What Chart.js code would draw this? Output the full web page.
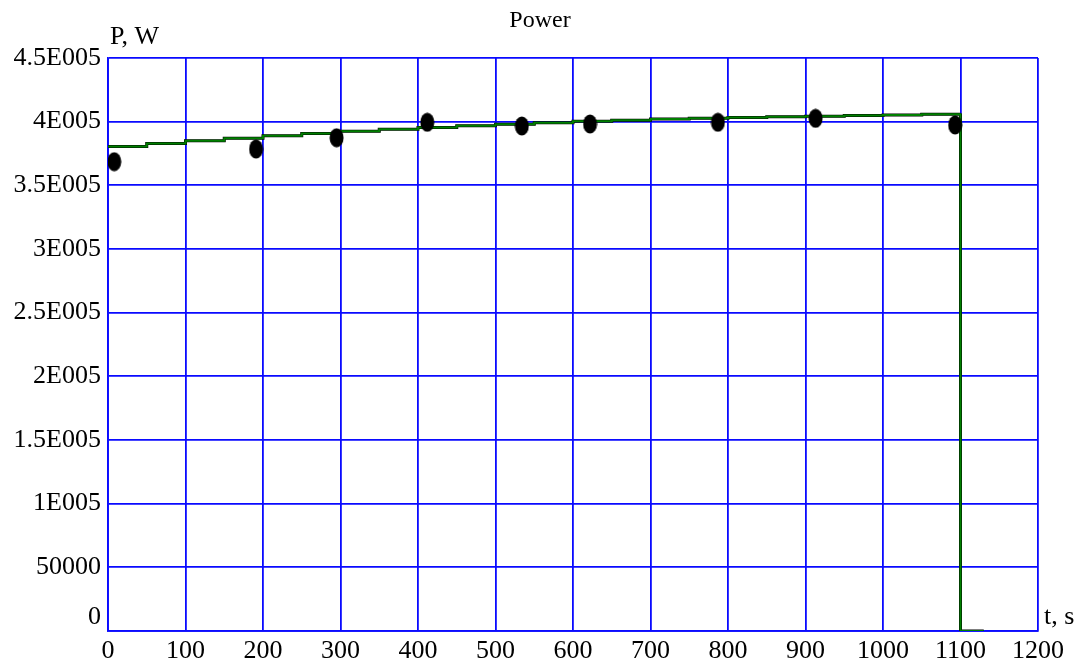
<!DOCTYPE html>
<html lang="en">
<head>
    <meta charset="UTF-8">
    <title>Power</title>
    <script src="https://cdn.jsdelivr.net/npm/chart.js"></script>
    <style>
        body {
            margin: 0;
            background: #fff;
        }
        canvas {
            display: block;
        }
    </style>
</head>
<body>
    <canvas id="powerChart" width="1081" height="669"></canvas>

    <script>
        // model curve (stepped), t in s, P in W
        const lineT = [0, 50, 100, 150, 200, 250, 300, 350, 400, 450, 500, 550, 600,
                       650, 700, 750, 800, 850, 900, 950, 1000, 1050, 1100, 1100, 1130];
        const lineP = [380500, 382800, 385000, 387000, 389000, 390800, 392500, 394000,
                       395500, 396800, 398000, 399200, 400300, 401200, 402000, 402700,
                       403300, 403800, 404300, 404800, 405300, 405800, 406500, 0, 0];

        // measured points
        const dotT = [8, 191, 295, 412, 534, 622, 787, 913, 1093];
        const dotP = [368600, 378500, 387400, 399500, 396600, 398200, 399500, 402600, 397400];

        const xTickLabels = ['0', '100', '200', '300', '400', '500', '600', '700', '800',
                             '900', '1000', '1100', '1200'];
        const yTickLabels = ['0', '50000', '1E005', '1.5E005', '2E005', '2.5E005',
                             '3E005', '3.5E005', '4E005', '4.5E005'];

        const serif = '"Liberation Serif", "DejaVu Serif", serif';
        const gridBlue = '#0a0aff';

        // black ellipse used as point marker
        const dotImg = document.createElement('canvas');
        dotImg.width = 15;
        dotImg.height = 20;
        const dctx = dotImg.getContext('2d');
        dctx.fillStyle = '#000';
        dctx.beginPath();
        dctx.ellipse(7.5, 10, 7, 9.5, 0, 0, Math.PI * 2);
        dctx.fill();

        const toXY = (xs, ys) => xs.map((x, i) => ({ x: x, y: ys[i] }));

        const textPlugin = {
            id: 'texts',
            afterDraw(chart) {
                const ctx = chart.ctx;
                const y = chart.scales.y;
                ctx.save();
                ctx.fillStyle = '#000';
                ctx.textBaseline = 'alphabetic';
                ctx.font = '24px ' + serif;
                ctx.textAlign = 'center';
                ctx.fillText('Power', 540, 27);
                ctx.font = '26px ' + serif;
                ctx.textAlign = 'left';
                ctx.fillText('P, W', 110, 44);
                ctx.fillText('t, s', 1044, 624);
                ctx.textAlign = 'right';
                ctx.fillText('0', 101, y.getPixelForValue(0) - 7);
                ctx.restore();
            }
        };

        new Chart(document.getElementById('powerChart'), {
            type: 'scatter',
            data: {
                datasets: [
                    {
                        label: 'measured',
                        data: toXY(dotT, dotP),
                        pointStyle: dotImg,
                        order: 0
                    },
                    {
                        label: 'model',
                        data: toXY(lineT, lineP),
                        showLine: true,
                        stepped: 'before',
                        borderColor: '#008000',
                        borderWidth: 2,
                        pointRadius: 0,
                        order: 1
                    },
                    {
                        label: 'model outline',
                        data: toXY(lineT, lineP),
                        showLine: true,
                        stepped: 'before',
                        borderColor: '#000',
                        borderWidth: 3,
                        pointRadius: 0,
                        order: 2
                    }
                ]
            },
            options: {
                responsive: false,
                animation: false,
                layout: { padding: { left: 0, right: 43, top: 58, bottom: 0 } },
                plugins: {
                    legend: { display: false },
                    tooltip: { enabled: false }
                },
                scales: {
                    x: {
                        type: 'linear',
                        min: 0,
                        max: 1200,
                        afterFit: (s) => { s.height = 38; },
                        grid: { color: gridBlue, lineWidth: 1.8, drawTicks: false },
                        border: { color: gridBlue, width: 1.8 },
                        ticks: {
                            stepSize: 100,
                            padding: 5,
                            color: '#000',
                            font: { family: serif, size: 26 },
                            maxRotation: 0,
                            callback: (v) => xTickLabels[Math.round(v / 100)]
                        }
                    },
                    y: {
                        type: 'linear',
                        min: 0,
                        max: 450000,
                        afterFit: (s) => { s.width = 108; },
                        grid: { color: gridBlue, lineWidth: 1.8, drawTicks: false },
                        border: { color: gridBlue, width: 1.8 },
                        ticks: {
                            stepSize: 50000,
                            padding: 7,
                            color: '#000',
                            font: { family: serif, size: 26 },
                            callback: (v) => v === 0 ? '' : yTickLabels[Math.round(v / 50000)]
                        }
                    }
                }
            },
            plugins: [textPlugin]
        });
    </script>
</body>
</html>
